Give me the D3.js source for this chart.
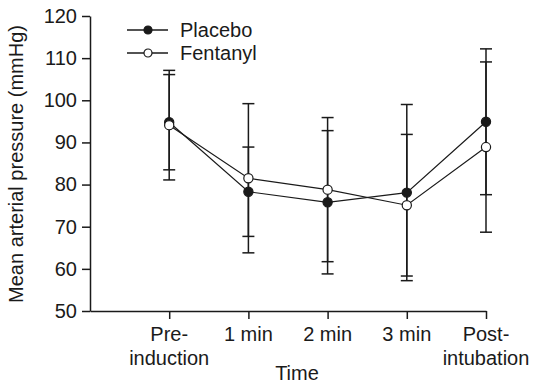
<!DOCTYPE html>
<html>
<head>
<meta charset="utf-8">
<script src="https://cdn.jsdelivr.net/npm/d3@7"></script>
<style>
  body { margin: 0; background: #fff; }
  text { font-family: "Liberation Sans", Arial, sans-serif; fill: #1a1a1a; }
</style>
</head>
<body>
<script>
// time points (two-line labels)
var categories = [["Pre-", "induction"], ["1 min"], ["2 min"], ["3 min"], ["Post-", "intubation"]];
var placeboMean = [94.8, 78.3, 75.8, 78.1, 94.9];
var placeboSD   = [11.3, 10.6, 17.0, 20.9, 17.3];
var fentanylMean = [94.1, 81.5, 78.8, 75.1, 88.9];
var fentanylSD   = [13.0, 17.7, 17.1, 16.8, 20.2];
var yTicks = [50, 60, 70, 80, 90, 100, 110, 120];

var w = 536, h = 383;
var fs = 20;

var svg = d3.select("body").append("svg")
    .attr("width", w)
    .attr("height", h);

var x = d3.scaleLinear().domain([-1, 4]).range([90, 486]);
var y = d3.scaleLinear().domain([50, 120]).range([311, 16]);

var series = [
    {name: "Placebo", mean: placeboMean, sd: placeboSD, fill: "#1a1a1a"},
    {name: "Fentanyl", mean: fentanylMean, sd: fentanylSD, fill: "#fff"}
];

// axes
var yAxis = svg.append("g")
    .attr("transform", "translate(90,0)")
    .call(d3.axisLeft(y).tickValues(yTicks).tickSize(8).tickSizeOuter(0).tickPadding(5));

var xAxis = svg.append("g")
    .attr("transform", "translate(0,311)")
    .call(d3.axisBottom(x).tickValues([0, 1, 2, 3, 4]).tickSize(8).tickSizeOuter(0).tickFormat(""));

[yAxis, xAxis].forEach(function(g) {
    g.selectAll("path, line").attr("stroke", "#1a1a1a").attr("stroke-width", 1.5);
    g.selectAll("text").attr("font-size", fs + "px").attr("fill", "#1a1a1a")
        .style("font-family", "'Liberation Sans', Arial, sans-serif");
});

// category labels
var catText = svg.append("g").selectAll("text")
    .data(categories)
    .enter()
    .append("text")
    .attr("text-anchor", "middle")
    .attr("font-size", fs + "px");
catText.each(function(d, i) {
    var t = d3.select(this);
    d.forEach(function(line, j) {
        t.append("tspan")
            .attr("x", x(i))
            .attr("y", 341 + j * 24)
            .text(line);
    });
});

svg.append("text")
    .attr("x", 297)
    .attr("y", 380)
    .attr("text-anchor", "middle")
    .attr("font-size", fs + "px")
    .text("Time");

svg.append("text")
    .attr("transform", "translate(23,164) rotate(-90)")
    .attr("text-anchor", "middle")
    .attr("font-size", fs + "px")
    .text("Mean arterial pressure (mmHg)");

// error bars
var capW = 6;
series.forEach(function(s) {
    var g = svg.append("g").attr("stroke", "#1a1a1a").attr("stroke-width", 1.5);
    g.selectAll("line.v")
        .data(s.mean)
        .enter()
        .append("line")
        .attr("x1", function(d, i) { return x(i); })
        .attr("x2", function(d, i) { return x(i); })
        .attr("y1", function(d, i) { return y(d + s.sd[i]); })
        .attr("y2", function(d, i) { return y(d - s.sd[i]); });
    [1, -1].forEach(function(sign) {
        g.selectAll("line.c" + sign)
            .data(s.mean)
            .enter()
            .append("line")
            .attr("x1", function(d, i) { return x(i) - capW; })
            .attr("x2", function(d, i) { return x(i) + capW; })
            .attr("y1", function(d, i) { return y(d + sign * s.sd[i]); })
            .attr("y2", function(d, i) { return y(d + sign * s.sd[i]); });
    });
});

// lines
var line = d3.line()
    .x(function(d, i) { return x(i); })
    .y(function(d) { return y(d); });

series.forEach(function(s) {
    svg.append("path")
        .datum(s.mean)
        .attr("d", line)
        .attr("fill", "none")
        .attr("stroke", "#1a1a1a")
        .attr("stroke-width", 1.2);
});

// markers
series.forEach(function(s) {
    svg.append("g").selectAll("circle")
        .data(s.mean)
        .enter()
        .append("circle")
        .attr("cx", function(d, i) { return x(i); })
        .attr("cy", function(d) { return y(d); })
        .attr("r", 4.6)
        .attr("fill", s.fill)
        .attr("stroke", "#1a1a1a")
        .attr("stroke-width", 1.2);
});

// legend
var legend = svg.append("g").selectAll("g")
    .data(series)
    .enter()
    .append("g")
    .attr("transform", function(d, i) { return "translate(127," + (30 + i * 23) + ")"; });

legend.append("line")
    .attr("x1", 0).attr("x2", 41)
    .attr("stroke", "#1a1a1a").attr("stroke-width", 1.3);
legend.append("circle")
    .attr("cx", 21).attr("r", 4)
    .attr("fill", function(d) { return d.fill; })
    .attr("stroke", "#1a1a1a").attr("stroke-width", 1.2);
legend.append("text")
    .attr("x", 53).attr("y", 7)
    .attr("font-size", fs + "px")
    .text(function(d) { return d.name; });
</script>
</body>
</html>
